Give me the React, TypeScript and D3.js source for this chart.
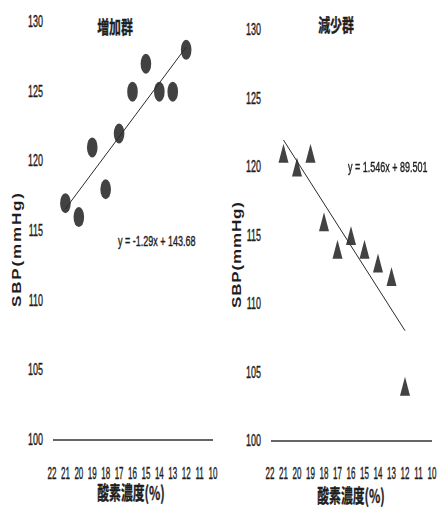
import * as d3 from "d3";

// oxygen concentration (%) and SBP readings
const oxygen = [21, 20, 19, 18, 17, 16, 15, 14, 13, 12];
const sbpIncrease = [117, 116, 121, 118, 122, 125, 127, 125, 125, 128];
const sbpDecrease = [121, 120, 121, 116, 114, 115, 114, 113, 112, 104];

const xTicks = [22, 21, 20, 19, 18, 17, 16, 15, 14, 13, 12, 11, 10];
const yTicks = [100, 105, 110, 115, 120, 125, 130];

const fitIncrease = { slope: -1.29, intercept: 143.68, label: "y = -1.29x + 143.68" };
const fitDecrease = { slope: 1.546, intercept: 89.501, label: "y = 1.546x + 89.501" };

const FONT = "'Liberation Sans', Arial, sans-serif";
const CJK = "'Noto Sans CJK JP', 'Noto Sans CJK SC', sans-serif";
const INK = "#1e1e1e";
const MARK = "#424242";

// the source picture is squeezed horizontally, so text is squeezed too
function SText({ x, y, size, sx = 0.6, anchor = "middle", weight = "normal", family = FONT, children }: any) {
  return (
    <text
      transform={`translate(${x},${y}) scale(${sx},1)`}
      textAnchor={anchor}
      fontSize={size}
      fontWeight={weight}
      fontFamily={family}
      fill={INK}
      stroke={INK}
      strokeWidth={0.4}
    >
      {children}
    </text>
  );
}

function Panel({ xRange, yRange, values, fit, marker, title, titlePos, eqPos, yLabel, xTitlePos }: any) {
  const x = d3.scaleLinear().domain([22, 10]).range(xRange);
  const y = d3.scaleLinear().domain([100, 130]).range(yRange);
  const fitLine = d3.line<number>()
    .x(d => x(d))
    .y(d => y(fit.slope * d + fit.intercept));
  const triangle = d3.line()([[0, -9.5], [5, 9.5], [-5, 9.5]]) + "Z";

  return (
    <g>
      {/* y tick labels */}
      {yTicks.map(t => (
        <SText key={t} x={xRange[0] - 9} y={y(t) + 5} size={16} sx={0.56} anchor="end">{t}</SText>
      ))}
      {/* x axis line and labels */}
      <line x1={x(22) + 1} x2={x(10)} y1={y(100)} y2={y(100)} stroke="#333" strokeWidth={1.5} />
      {xTicks.map(t => (
        <SText key={t} x={x(t)} y={479} size={16} sx={0.5}>{t}</SText>
      ))}
      <SText x={xTitlePos[0]} y={xTitlePos[1]} size={19} sx={0.62} weight="bold" family={CJK}>酸素濃度(%)</SText>
      {/* y axis title */}
      <text
        transform={`translate(${yLabel.x + 4},${yLabel.y}) rotate(-90) scale(1,0.75)`}
        textAnchor="middle"
        fontSize={17}
        fontWeight="bold"
        fontFamily={FONT}
        fill={INK}
        textLength={yLabel.len}
        lengthAdjust="spacing"
      >
        SBP(mmHg)
      </text>
      <SText x={titlePos[0]} y={titlePos[1] + 7} size={18} sx={0.66} weight="bold" family={CJK}>{title}</SText>
      {/* markers */}
      <g fill={MARK} filter="url(#soft)">
        {oxygen.map((o, i) =>
          marker === "circle" ? (
            <ellipse key={i} cx={x(o)} cy={y(values[i])} rx={5.3} ry={10} />
          ) : (
            <path key={i} d={triangle} transform={`translate(${x(o)},${y(values[i])})`} />
          )
        )}
      </g>
      <path d={fitLine([21, 12]) || ""} fill="none" stroke="#2a2a2a" strokeWidth={1} />
      <SText x={eqPos[0]} y={eqPos[1] + 5} size={15} sx={0.6} anchor="start">{fit.label}</SText>
    </g>
  );
}

export default function App() {
  return (
    <svg width={438} height={510} style={{ position: "absolute", left: 0, top: 0, background: "#fff" }}>
      <defs>
        <filter id="soft" x="-50%" y="-50%" width="200%" height="200%">
          <feGaussianBlur stdDeviation={0.7} />
        </filter>
      </defs>
      <Panel
        xRange={[52, 213]}
        yRange={[440, 22]}
        values={sbpIncrease}
        fit={fitIncrease}
        marker="circle"
        title="増加群"
        titlePos={[115, 27]}
        eqPos={[118, 241]}
        yLabel={{ x: 17, y: 250, len: 114 }}
        xTitlePos={[131, 500]}
      />
      <Panel
        xRange={[270, 432]}
        yRange={[441, 30]}
        values={sbpDecrease}
        fit={fitDecrease}
        marker="triangle"
        title="減少群"
        titlePos={[336, 25]}
        eqPos={[348, 167]}
        yLabel={{ x: 237, y: 255, len: 106 }}
        xTitlePos={[351, 503]}
      />
    </svg>
  );
}
